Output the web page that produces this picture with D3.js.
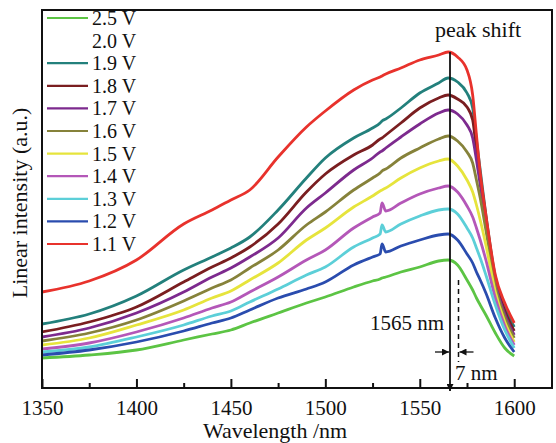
<!DOCTYPE html>
<html>
<head>
<meta charset="utf-8">
<script src="https://cdn.jsdelivr.net/npm/d3@7"></script>
<style>
  body { margin: 0; background: #fff; }
  svg text { font-family: "Liberation Serif", "DejaVu Serif", serif; fill: #111; }
</style>
</head>
<body>
<div id="chart"></div>
<script>
// wavelength grid (nm) the curves were read at
var wavelengths = [1350, 1375, 1400, 1425, 1440, 1450, 1460, 1475, 1490, 1500, 1515, 1525, 1529, 1530, 1532,
    1540, 1550, 1560, 1565, 1570, 1575, 1578, 1580, 1582, 1585, 1590, 1595, 1600];

// intensities (a.u.)
var v11 = [96, 107, 128, 164, 178, 188, 198, 231, 261, 277, 298, 308, 311, 312, 314, 320, 328, 333, 336, 331, 318, 293, 253, 215, 173, 113, 85, 65];
var v19 = [64, 74, 92, 118, 131, 140, 151, 178, 210, 230, 250, 260, 265, 267, 269, 280, 295, 305, 310, 306, 295, 280, 248, 218, 173, 111, 81, 61];
var v18 = [56, 66, 81, 106, 121, 130, 141, 164, 196, 214, 233, 243, 249, 250, 253, 265, 280, 290, 293, 289, 281, 268, 238, 210, 170, 108, 77, 57];
var v17 = [51, 60, 75, 96, 111, 120, 131, 150, 180, 195, 218, 230, 236, 237, 240, 251, 264, 275, 278, 274, 263, 250, 228, 203, 166, 105, 74, 53];
var v16 = [47, 55, 68, 87, 100, 108, 120, 138, 163, 176, 198, 210, 215, 217, 219, 230, 240, 249, 252, 247, 236, 225, 208, 190, 158, 102, 71, 50];
var v15 = [43, 50, 63, 78, 90, 97, 108, 125, 148, 160, 181, 192, 197, 198, 200, 210, 220, 227, 229, 222, 208, 196, 183, 168, 143, 96, 66, 46];
var v14 = [39, 45, 56, 70, 80, 86, 96, 111, 128, 138, 160, 171, 175, 185, 177, 185, 194, 200, 202, 196, 182, 171, 160, 148, 128, 90, 62, 43];
var v13 = [36, 41, 51, 63, 72, 77, 86, 99, 113, 121, 141, 150, 154, 163, 156, 164, 172, 178, 179, 174, 160, 150, 140, 130, 113, 83, 58, 40];
var v12 = [33, 38, 46, 57, 65, 70, 78, 90, 99, 106, 123, 131, 134, 144, 136, 142, 148, 153, 154, 148, 134, 125, 116, 108, 95, 70, 50, 36];
var v25 = [30, 33, 38, 48, 54, 58, 65, 75, 85, 91, 101, 107, 109, 110, 111, 116, 121, 127, 128, 123, 108, 98, 90, 83, 73, 55, 40, 32];

// legend order as in the figure (2.0 V has no visible curve)
var voltages = ["2.5 V", "2.0 V", "1.9 V", "1.8 V", "1.7 V", "1.6 V", "1.5 V", "1.4 V", "1.3 V", "1.2 V", "1.1 V"];
var seriesValues = [v25, null, v19, v18, v17, v16, v15, v14, v13, v12, v11];
var colors = ["#5cc444", "#ffffff", "#23807c", "#7a1e20", "#7d2a8e", "#86823a", "#e6e43c", "#b457b8", "#5ccfd8", "#2a4cae", "#e8322c"];

var xTicks = [1350, 1400, 1450, 1500, 1550, 1600];
var xMinorTicks = [1375, 1425, 1475, 1525, 1575];

// annotation values
var peakWavelength = 1566;
var shiftedWavelength = 1570.5;

var margin = {top: 10, right: 4, bottom: 55, left: 42};
var width = 556 - margin.left - margin.right;
var height = 443 - margin.top - margin.bottom;

var x = d3.scaleLinear().domain([1350, 1620]).range([0, width]);
var y = d3.scaleLinear().domain([0, 378]).range([height, 0]);

var svg = d3.select("#chart").append("svg")
    .attr("width", 556)
    .attr("height", 443);

var defs = svg.append("defs");
defs.append("marker")
    .attr("id", "arrow")
    .attr("viewBox", "0 0 10 10")
    .attr("refX", 10).attr("refY", 5)
    .attr("markerWidth", 9).attr("markerHeight", 7)
    .attr("markerUnits", "userSpaceOnUse")
    .attr("orient", "auto")
    .append("path").attr("d", "M0,0L10,5L0,10Z").attr("fill", "#111");

var chart = svg.append("g")
    .attr("transform", "translate(" + margin.left + "," + margin.top + ")");

// curves
var line = d3.line()
    .curve(d3.curveMonotoneX)
    .x(function(d) { return x(d[0]); })
    .y(function(d) { return y(d[1]); });

seriesValues.forEach(function(vals, i) {
    if (!vals) return;
    chart.append("path")
        .datum(wavelengths.map(function(w, j) { return [w, vals[j]]; }))
        .attr("fill", "none")
        .attr("stroke", colors[i])
        .attr("stroke-width", 2.8)
        .attr("stroke-linejoin", "round")
        .attr("d", line);
});

// frame
chart.append("rect")
    .attr("x", 0).attr("y", 0)
    .attr("width", width).attr("height", height)
    .attr("fill", "none")
    .attr("stroke", "#111")
    .attr("stroke-width", 2);

// x axis: major ticks inward with labels, minor ticks inward
var xAxis = chart.append("g")
    .attr("class", "axis")
    .attr("transform", "translate(0," + height + ")")
    .call(d3.axisBottom(x).tickValues(xTicks).tickSizeInner(-9).tickSizeOuter(0).tickFormat(d3.format("d")));
xAxis.select(".domain").remove();
xAxis.selectAll("line").attr("stroke", "#111").attr("stroke-width", 2);
xAxis.selectAll("text")
    .attr("y", 27).attr("dy", 0)
    .attr("font-size", "21px")
    .attr("fill", "#111");

var xMinor = chart.append("g")
    .attr("transform", "translate(0," + height + ")")
    .call(d3.axisBottom(x).tickValues(xMinorTicks).tickSizeInner(-5).tickSizeOuter(0).tickFormat(""));
xMinor.select(".domain").remove();
xMinor.selectAll("line").attr("stroke", "#111").attr("stroke-width", 2);

// axis titles
svg.append("text")
    .attr("x", 275).attr("y", 438)
    .attr("text-anchor", "middle")
    .attr("font-size", "22px")
    .text("Wavelength /nm");

svg.append("text")
    .attr("transform", "translate(27,203) rotate(-90)")
    .attr("text-anchor", "middle")
    .attr("font-size", "22px")
    .text("Linear intensity (a.u.)");

// legend
var legend = chart.append("g").attr("transform", "translate(5,8)");
voltages.forEach(function(label, i) {
    var row = legend.append("g").attr("transform", "translate(0," + (i * 22.6) + ")");
    row.append("line")
        .attr("x1", 0).attr("x2", 41)
        .attr("y1", 0).attr("y2", 0)
        .attr("stroke", colors[i])
        .attr("stroke-width", 2.2);
    row.append("text")
        .attr("x", 45).attr("y", 7)
        .attr("font-size", "20px")
        .text(label);
});

// peak shift annotation
var peakX = x(peakWavelength);
var shiftX = x(shiftedWavelength);

chart.append("line")
    .attr("x1", peakX).attr("x2", peakX)
    .attr("y1", y(336)).attr("y2", height + 3)
    .attr("stroke", "#111")
    .attr("stroke-width", 1.8)
    .attr("marker-end", "url(#arrow)");

chart.append("line")
    .attr("x1", shiftX).attr("x2", shiftX)
    .attr("y1", y(108)).attr("y2", y(26))
    .attr("stroke", "#111")
    .attr("stroke-width", 1.5)
    .attr("stroke-dasharray", "5,4");

var arrowY = y(36);
chart.append("line")
    .attr("x1", peakX - 15).attr("x2", peakX - 1)
    .attr("y1", arrowY).attr("y2", arrowY)
    .attr("stroke", "#111").attr("stroke-width", 1.3)
    .attr("marker-end", "url(#arrow)");
chart.append("line")
    .attr("x1", shiftX + 15).attr("x2", shiftX + 1)
    .attr("y1", arrowY).attr("y2", arrowY)
    .attr("stroke", "#111").attr("stroke-width", 1.3)
    .attr("marker-end", "url(#arrow)");

chart.append("text")
    .attr("x", peakX - 15)
    .attr("y", y(351))
    .attr("font-size", "22px")
    .text("peak shift");

chart.append("text")
    .attr("x", peakX - 6)
    .attr("y", y(58))
    .attr("text-anchor", "end")
    .attr("font-size", "21px")
    .text("1565 nm");

chart.append("text")
    .attr("x", peakX + 5)
    .attr("y", y(8))
    .attr("font-size", "21px")
    .text("7 nm");
</script>
</body>
</html>
